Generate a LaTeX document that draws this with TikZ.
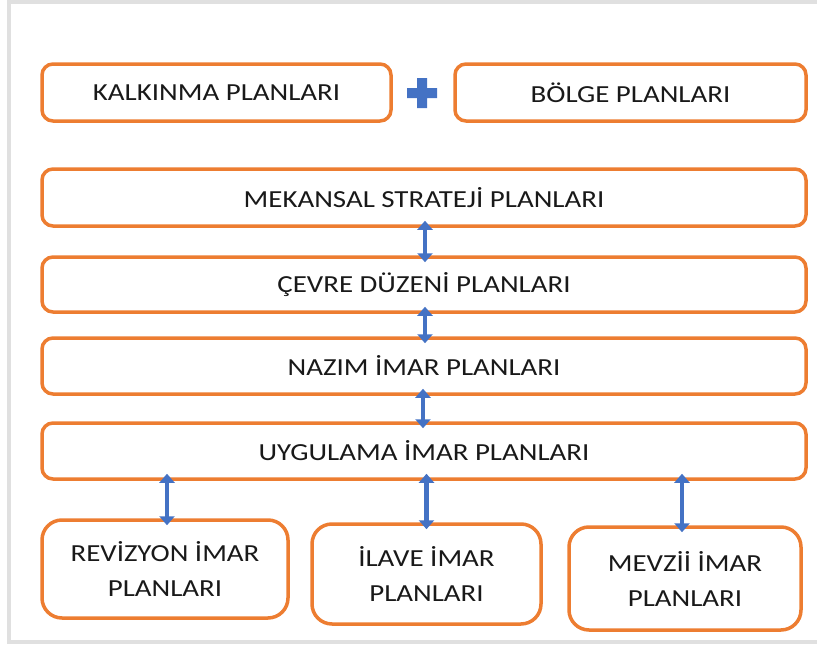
\documentclass[tikz,border=0pt]{standalone}
\usepackage{fontspec}
\setmainfont[FakeStretch=1.18]{Carlito}
\usetikzlibrary{arrows.meta}
\definecolor{boxorange}{HTML}{ED7D31}
\definecolor{arrowblue}{HTML}{4472C4}
\begin{document}
\begin{tikzpicture}[x=1pt,y=-1pt,
    plan/.style={draw=boxorange,line width=3.5pt,rounded corners=11pt,fill=white,
      text=black!90,inner sep=0pt,font=\fontsize{24.5}{35}\selectfont,align=center},
    link/.style={arrowblue,line width=4.5pt,{Triangle[length=9pt,width=15pt]}-{Triangle[length=9pt,width=15pt]},
      shorten <=-7pt,shorten >=-7pt}]
    \useasboundingbox (0,0) rectangle (817,645);
    \draw[black!12,line width=4pt] (817,2) -- (9,2) -- (9,642) -- (817,642);
    \node[plan,minimum width=349pt,minimum height=57pt] (kal) at (216.5,92.5) {KALKINMA PLANLARI};
    \node[plan,minimum width=351pt,minimum height=57pt] (bol) at (630.5,92.5) {BÖLGE PLANLARI};
    \fill[arrowblue] (417,78) rectangle (427,108) (407,88) rectangle (437,98);
    \node[plan,minimum width=764pt,minimum height=57pt] (mek) at (424,197.5) {MEKANSAL STRATEJİ PLANLARI};
    \node[plan,minimum width=764pt,minimum height=55pt] (cev) at (424,284.5) {ÇEVRE DÜZENİ PLANLARI};
    \node[plan,minimum width=764pt,minimum height=56pt] (naz) at (424,366) {NAZIM İMAR PLANLARI};
    \node[plan,minimum width=764pt,minimum height=56pt] (uyg) at (424,451) {UYGULAMA İMAR PLANLARI};
    \node[plan,rounded corners=20pt,minimum width=246pt,minimum height=98pt] (rev) at (165,569) {REVİZYON İMAR\\PLANLARI};
    \node[plan,rounded corners=20pt,minimum width=229pt,minimum height=100pt] (ila) at (426.5,574) {İLAVE  İMAR\\PLANLARI};
    \node[plan,rounded corners=20pt,minimum width=232pt,minimum height=103pt] (mev) at (685,578.5) {MEVZİİ İMAR\\PLANLARI};
    \draw[link] ([xshift=1pt]mek.south) -- ([xshift=1pt]cev.north);
    \draw[link] ([xshift=1pt]cev.south) -- ([xshift=1pt]naz.north);
    \draw[link] ([xshift=-1pt]naz.south) -- ([xshift=-1pt]uyg.north);
    \draw[link] ([xshift=2pt]rev.north |- uyg.south) -- ([xshift=2pt]rev.north);
    \draw[link] (ila.north |- uyg.south) -- (ila.north);
    \draw[link] ([xshift=-3pt]mev.north |- uyg.south) -- ([xshift=-3pt]mev.north);
\end{tikzpicture}
\end{document}
